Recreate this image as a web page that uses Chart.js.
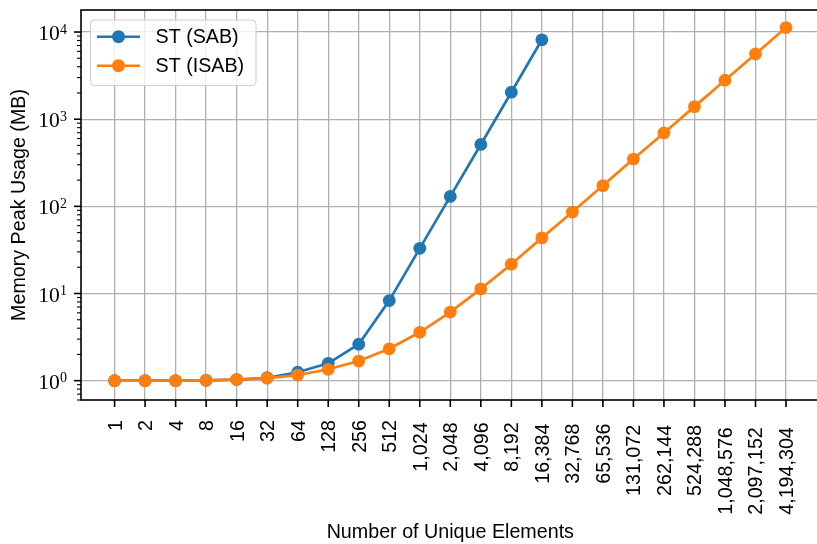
<!DOCTYPE html>
<html>
<head>
<meta charset="utf-8">
<script src="https://cdn.jsdelivr.net/npm/chart.js@4.4.1/dist/chart.umd.min.js"></script>
<style>
  html, body { margin: 0; padding: 0; overflow: hidden; background: #fff; }
  canvas { display: block; }
</style>
</head>
<body>
<canvas id="memChart" width="826" height="544"></canvas>
<script>
// Number of unique elements (x axis categories, shown as tick labels)
const elementCounts = ['1', '2', '4', '8', '16', '32', '64', '128', '256', '512',
  '1,024', '2,048', '4,096', '8,192', '16,384', '32,768', '65,536', '131,072',
  '262,144', '524,288', '1,048,576', '2,097,152', '4,194,304'];

// Peak memory (MB) per model
const sabMemory = [1.0, 1.0, 1.0, 1.01, 1.03, 1.08, 1.25, 1.58, 2.62, 8.3,
  33, 130, 513, 2040, 8150];
const isabMemory = [1.0, 1.0, 1.0, 1.01, 1.03, 1.07, 1.16, 1.35, 1.68, 2.32,
  3.59, 6.12, 11.3, 21.7, 43.5, 86, 173, 349, 696, 1393, 2800, 5600, 11250];

// Labelled powers of ten on the y axis
const yDecades = [1, 10, 100, 1000, 10000];

const SANS = 'Liberation Sans, Arial, Helvetica, sans-serif';
const SERIF = 'Liberation Serif, Times New Roman, serif';
const TEXT_SIZE = 19.7;

const isDecade = v => Math.abs(Math.log10(v) - Math.round(Math.log10(v))) < 1e-9;

// Frame, tick marks, tick labels and legend box
const axisDecor = {
  id: 'axisDecor',
  afterDraw(chart) {
    const { ctx, chartArea: a, scales: { x, y } } = chart;
    ctx.save();

    // axis frame
    ctx.strokeStyle = '#000';
    ctx.lineWidth = 1.6;
    ctx.strokeRect(a.left, a.top, a.right - a.left, a.bottom - a.top);

    // x tick marks and rotated labels
    ctx.beginPath();
    elementCounts.forEach((_, i) => {
      const px = x.getPixelForValue(i);
      ctx.moveTo(px, a.bottom);
      ctx.lineTo(px, a.bottom + 7);
    });
    ctx.stroke();

    ctx.fillStyle = '#000';
    ctx.font = `${TEXT_SIZE}px ${SANS}`;
    elementCounts.forEach((label, i) => {
      const px = x.getPixelForValue(i);
      const drop = Math.max(0, label.length - 3) * 1.2;
      ctx.save();
      ctx.translate(px + 1.5, a.bottom + 20 + drop);
      ctx.rotate(-Math.PI / 2);
      ctx.textAlign = 'right';
      ctx.textBaseline = 'middle';
      ctx.fillText(label, 0, 0);
      ctx.restore();
    });

    // y tick marks (major at decades, minor in between)
    for (let k = -1; k <= 5; k++) {
      for (let m = 1; m <= 9; m++) {
        const v = m * Math.pow(10, k);
        if (v < y.min || v > y.max) continue;
        const py = y.getPixelForValue(v);
        ctx.lineWidth = m === 1 ? 1.6 : 1.1;
        ctx.beginPath();
        ctx.moveTo(a.left, py);
        ctx.lineTo(a.left - (m === 1 ? 7 : 4), py);
        ctx.stroke();
      }
    }

    // y tick labels: 10 with exponent
    ctx.textBaseline = 'alphabetic';
    yDecades.forEach(d => {
      const py = y.getPixelForValue(d);
      const exp = String(Math.round(Math.log10(d)));
      ctx.font = `14px ${SERIF}`;
      const wExp = ctx.measureText(exp).width;
      const expLeft = a.left - 14 - wExp;
      ctx.textAlign = 'left';
      ctx.fillText(exp, expLeft, py + 1.5);
      ctx.font = `21.5px ${SERIF}`;
      ctx.textAlign = 'right';
      ctx.fillText('10', expLeft - 0.3, py + 8);
    });

    // legend
    const lx = 90.5, ly = 20, lw = 165.5, lh = 65.5, r = 4;
    ctx.beginPath();
    ctx.moveTo(lx + r, ly);
    ctx.arcTo(lx + lw, ly, lx + lw, ly + lh, r);
    ctx.arcTo(lx + lw, ly + lh, lx, ly + lh, r);
    ctx.arcTo(lx, ly + lh, lx, ly, r);
    ctx.arcTo(lx, ly, lx + lw, ly, r);
    ctx.closePath();
    ctx.fillStyle = 'rgba(255,255,255,0.8)';
    ctx.fill();
    ctx.strokeStyle = '#cccccc';
    ctx.lineWidth = 1;
    ctx.stroke();

    chart.data.datasets.forEach((ds, i) => {
      const ry = 36.7 + i * 29;
      ctx.strokeStyle = ds.borderColor;
      ctx.lineWidth = 2.6;
      ctx.beginPath();
      ctx.moveTo(97, ry);
      ctx.lineTo(140, ry);
      ctx.stroke();
      ctx.fillStyle = ds.backgroundColor;
      ctx.beginPath();
      ctx.arc(118.5, ry, 6.5, 0, Math.PI * 2);
      ctx.fill();
      ctx.fillStyle = '#000';
      ctx.font = `${TEXT_SIZE}px ${SANS}`;
      ctx.textAlign = 'left';
      ctx.textBaseline = 'middle';
      ctx.fillText(ds.label, 155.5, ry + 1);
    });

    ctx.restore();
  }
};

const seriesStyle = color => ({
  borderColor: color,
  backgroundColor: color,
  pointBackgroundColor: color,
  pointBorderColor: color,
  borderWidth: 2.7,
  pointRadius: 6.4,
  pointBorderWidth: 0,
  tension: 0
});

new Chart(document.getElementById('memChart'), {
  type: 'line',
  data: {
    datasets: [
      { label: 'ST (SAB)', data: sabMemory.map((v, i) => ({ x: i, y: v })), order: 1, ...seriesStyle('#1f77b4') },
      { label: 'ST (ISAB)', data: isabMemory.map((v, i) => ({ x: i, y: v })), order: 0, ...seriesStyle('#ff7f0e') }
    ]
  },
  options: {
    responsive: false,
    animation: false,
    devicePixelRatio: 1,
    layout: { padding: { top: 10, left: 0, right: 0, bottom: 0 } },
    plugins: { legend: { display: false }, tooltip: { enabled: false } },
    scales: {
      x: {
        type: 'linear',
        min: -1.1,
        max: elementCounts.length - 1 + 1.1,
        afterBuildTicks: s => { s.ticks = elementCounts.map((_, i) => ({ value: i })); },
        afterFit: s => { s.height = 144; },
        border: { display: false },
        grid: { color: '#b0b0b0', lineWidth: 1.3, drawTicks: false },
        ticks: { display: false },
        title: {
          display: true, text: 'Number of Unique Elements', color: '#000',
          font: { family: SANS, size: TEXT_SIZE }, padding: { top: 0, bottom: 0 }
        }
      },
      y: {
        type: 'logarithmic',
        min: 0.64,
        max: 17900,
        afterFit: s => { s.width = 81; },
        border: { display: false },
        grid: {
          drawTicks: false, lineWidth: 1.3,
          color: c => (c.tick && isDecade(c.tick.value)) ? '#b0b0b0' : 'rgba(0,0,0,0)'
        },
        ticks: { display: false },
        title: {
          display: true, text: 'Memory Peak Usage (MB)', color: '#000',
          font: { family: SANS, size: TEXT_SIZE }, padding: { top: 8, bottom: 0 }
        }
      }
    }
  },
  plugins: [axisDecor]
});
</script>
</body>
</html>
